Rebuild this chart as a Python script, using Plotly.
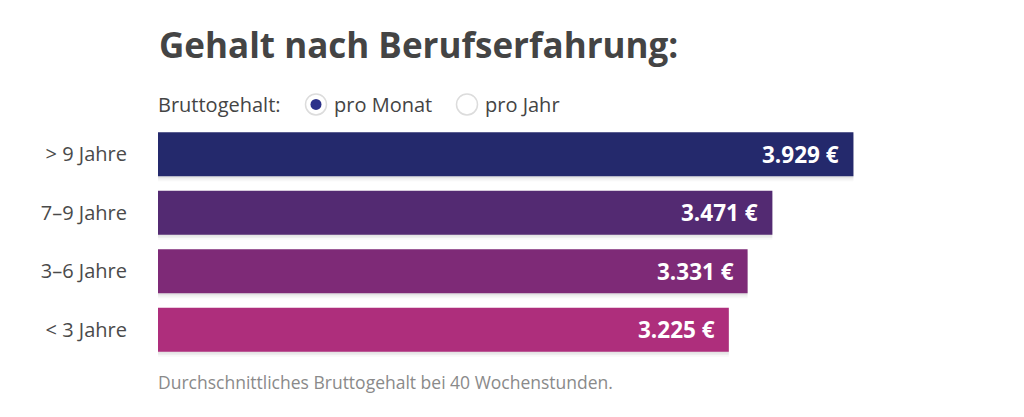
import plotly.graph_objects as go

categories = ["> 9 Jahre", "7–9 Jahre", "3–6 Jahre", "< 3 Jahre"]
values = [3929, 3471, 3331, 3225]
value_labels = ["3.929 €", "3.471 €", "3.331 €", "3.225 €"]
bar_colors = ["#24296c", "#532a72", "#7e2a77", "#ae2e7c"]

title_text = "Gehalt nach Berufserfahrung:"
toggle_label = "Bruttogehalt:"
toggle_options = ["pro Monat", "pro Jahr"]
footnote = "Durchschnittliches Bruttogehalt bei 40 Wochenstunden."

OFF = 8  # page body margin
W, H = 1024 - OFF, 417 - OFF
L = 158 - OFF
T = 124.6 - OFF
PW, PH = 708, 234.7
R = W - L - PW
B = H - T - PH


def px(x):
    return (x - OFF - L) / PW


def py(y):
    return (H - B - (y - OFF)) / PH


FONT = "Open Sans"
fig = go.Figure()

# soft shadow below bars
for shift, alpha in [(0.085, 0.035), (0.055, 0.05), (0.03, 0.06)]:
    fig.add_trace(go.Bar(
        x=values, y=categories, orientation="h",
        marker=dict(color=f"rgba(60,60,60,{alpha})", line=dict(width=0)),
        width=0.75, offset=-0.375 + shift, hoverinfo="skip", showlegend=False,
    ))

fig.add_trace(go.Bar(
    x=values, y=categories, orientation="h",
    marker=dict(color=bar_colors, line=dict(width=0)),
    width=0.75, offset=-0.375, showlegend=False,
))

annotations = []
for v, c, lab in zip(values, categories, value_labels):
    annotations.append(dict(
        x=v, y=c, xref="x", yref="y", text=f"<b>{lab}</b>", showarrow=False,
        xanchor="right", yanchor="middle", xshift=-12,
        font=dict(family=FONT, size=22.5, color="white"),
    ))

annotations += [
    dict(x=px(157), y=py(44), xref="paper", yref="paper", text=f"<b>{title_text}</b>",
         showarrow=False, xanchor="left", yanchor="middle",
         font=dict(family=FONT, size=35, color="#444444")),
    dict(x=px(156), y=py(104), xref="paper", yref="paper", text=toggle_label,
         showarrow=False, xanchor="left", yanchor="middle",
         font=dict(family=FONT, size=20, color="#444444")),
    dict(x=px(332), y=py(104), xref="paper", yref="paper", text=toggle_options[0],
         showarrow=False, xanchor="left", yanchor="middle",
         font=dict(family=FONT, size=20, color="#444444")),
    dict(x=px(483), y=py(104), xref="paper", yref="paper", text=toggle_options[1],
         showarrow=False, xanchor="left", yanchor="middle",
         font=dict(family=FONT, size=20, color="#444444")),
    dict(x=px(156), y=py(382), xref="paper", yref="paper", text=footnote,
         showarrow=False, xanchor="left", yanchor="middle",
         font=dict(family=FONT, size=17.5, color="#8a8a8a")),
]

shapes = []
for cx, filled in [(316, True), (467, False)]:
    shapes.append(dict(
        type="circle", xref="paper", yref="paper", xsizemode="pixel", ysizemode="pixel",
        xanchor=px(cx), yanchor=py(104), x0=-10.5, x1=10.5, y0=-10.5, y1=10.5,
        line=dict(color="#dcdcdc", width=1.5), fillcolor="white",
    ))
    if filled:
        shapes.append(dict(
            type="circle", xref="paper", yref="paper", xsizemode="pixel", ysizemode="pixel",
            xanchor=px(cx), yanchor=py(104), x0=-5.5, x1=5.5, y0=-5.5, y1=5.5,
            line=dict(width=0), fillcolor="#2c318a",
        ))

fig.update_layout(
    width=W, height=H,
    margin=dict(l=L, r=R, t=T, b=B, autoexpand=False),
    paper_bgcolor="white", plot_bgcolor="white",
    barmode="overlay",
    showlegend=False,
    xaxis=dict(range=[0, 4000], visible=False, fixedrange=True),
    yaxis=dict(
        categoryorder="array", categoryarray=categories, autorange="reversed",
        showgrid=False, zeroline=False, showline=False, ticks="",
        ticklabelstandoff=30,
        tickfont=dict(family=FONT, size=20, color="#4a4a4a"),
        fixedrange=True,
    ),
    annotations=annotations,
    shapes=shapes,
)

fig.write_html("out.html")
